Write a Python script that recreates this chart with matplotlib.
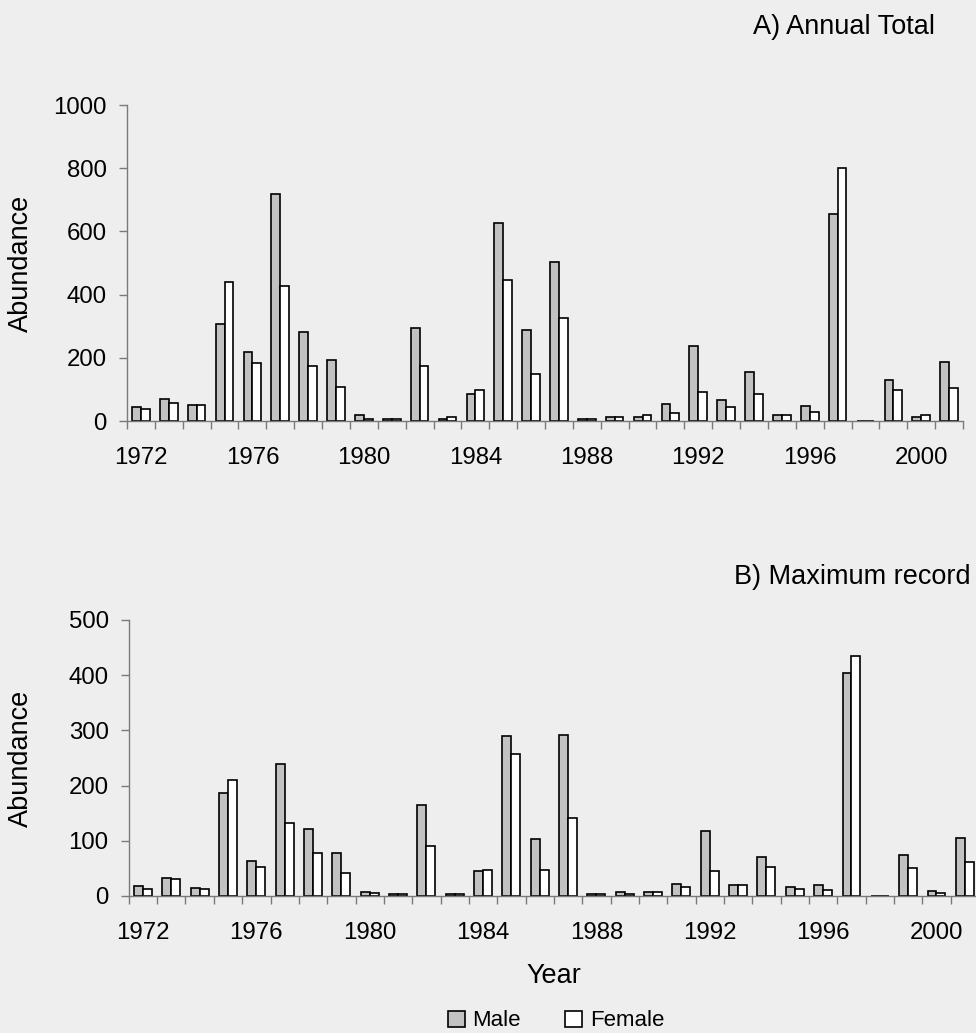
import numpy as np
import matplotlib
matplotlib.use("Agg")
import matplotlib.pyplot as plt
from matplotlib.patches import Patch
from matplotlib.ticker import FixedLocator, NullFormatter

plt.rcParams['font.family'] = ['Liberation Sans', 'DejaVu Sans']

years = list(range(1972, 2002))

# A) annual total abundance
total_male = [44, 69, 51, 308, 219, 717, 281, 194, 18, 5, 294, 5, 87, 627, 287,
              503, 5, 13, 13, 55, 238, 68, 154, 18, 48, 656, 0, 129, 13, 186]
total_female = [37, 57, 51, 441, 182, 427, 175, 107, 5, 5, 175, 12, 98, 446, 150,
                325, 5, 13, 19, 24, 93, 43, 87, 18, 30, 800, 0, 98, 19, 105]

# B) maximum single record
max_male = [18, 33, 15, 186, 63, 239, 121, 78, 8, 4, 165, 3, 45, 289, 104,
            292, 4, 7, 8, 22, 118, 20, 70, 16, 20, 404, 0, 74, 9, 105]
max_female = [12, 30, 12, 211, 52, 132, 77, 42, 5, 4, 90, 3, 48, 257, 48,
              142, 4, 4, 8, 16, 46, 20, 52, 13, 10, 434, 0, 50, 6, 61]

total_yticks = [0, 200, 400, 600, 800, 1000]
max_yticks = [0, 100, 200, 300, 400, 500]

BG = '#eeeeee'
MALE_C = '#c2c2c2'
FEMALE_C = '#ffffff'
AXIS_C = '#7a7a7a'
TICK_FS = 17.3
TITLE_FS = 19.5
LEG_FS = 16

W, H = 976, 1033
fig = plt.figure(figsize=(W / 100, H / 100), dpi=100, facecolor=BG)


def draw_panel(ax, male, female, yticks):
    x = np.arange(len(years))
    w = 0.316
    ax.set_facecolor(BG)
    ax.bar(x - w / 2, male, width=w, color=MALE_C, edgecolor='black', linewidth=1.2, zorder=3)
    ax.bar(x + w / 2, female, width=w, color=FEMALE_C, edgecolor='black', linewidth=1.2, zorder=3)
    ax.set_xlim(-0.5, len(years) - 0.5)
    ax.set_ylim(0, yticks[-1])
    for s in ('top', 'right'):
        ax.spines[s].set_visible(False)
    for s in ('left', 'bottom'):
        ax.spines[s].set_color(AXIS_C)
        ax.spines[s].set_linewidth(1.0)
    ax.spines['bottom'].set_zorder(4)
    ax.set_yticks(yticks)
    ax.set_yticklabels([str(v) for v in yticks], fontsize=TICK_FS)
    ax.tick_params(axis='y', direction='out', length=6, width=1, color=AXIS_C, pad=8.5)
    lab_pos = x[::4]
    ax.set_xticks(lab_pos)
    ax.set_xticklabels([str(years[i]) for i in lab_pos], fontsize=TICK_FS)
    ax.tick_params(axis='x', which='major', length=0, pad=19)
    ax.xaxis.set_minor_locator(FixedLocator(np.arange(-0.5, len(years), 1.0)))
    ax.xaxis.set_minor_formatter(NullFormatter())
    ax.tick_params(axis='x', which='minor', direction='out', length=6, width=1, color=AXIS_C)


# pixel boxes (left, top, right, bottom) converted to figure fractions
def box(l, t, r, b):
    return [l / W, 1 - b / H, (r - l) / W, (b - t) / H]


ax1 = fig.add_axes(box(127, 105, 963, 421))
draw_panel(ax1, total_male, total_female, total_yticks)

ax2 = fig.add_axes(box(128.8, 620, 979, 896))
draw_panel(ax2, max_male, max_female, max_yticks)

fig.text(21 / W, 1 - 263 / H, 'Abundance', rotation=90, ha='center', va='center', fontsize=TITLE_FS)
fig.text(21 / W, 1 - 758 / H, 'Abundance', rotation=90, ha='center', va='center', fontsize=TITLE_FS)

fig.text(935 / W, 1 - 27 / H, 'A) Annual Total', ha='right', va='center', fontsize=TITLE_FS)
fig.text(971 / W, 1 - 577 / H, 'B) Maximum record', ha='right', va='center', fontsize=TITLE_FS)
fig.text(554 / W, 1 - 976 / H, 'Year', ha='center', va='center', fontsize=TITLE_FS)

handles = [Patch(facecolor=MALE_C, edgecolor='black', linewidth=1.2, label='Male'),
           Patch(facecolor=FEMALE_C, edgecolor='black', linewidth=1.2, label='Female')]
fig.legend(handles=handles, loc='center', bbox_to_anchor=(556 / W, 1 - 1021 / H), ncol=2,
           frameon=False, fontsize=LEG_FS, handlelength=0.75, handleheight=0.75,
           handletextpad=0.35, columnspacing=2.0, borderpad=0)

fig.savefig('out.png', dpi=100, facecolor=BG)
